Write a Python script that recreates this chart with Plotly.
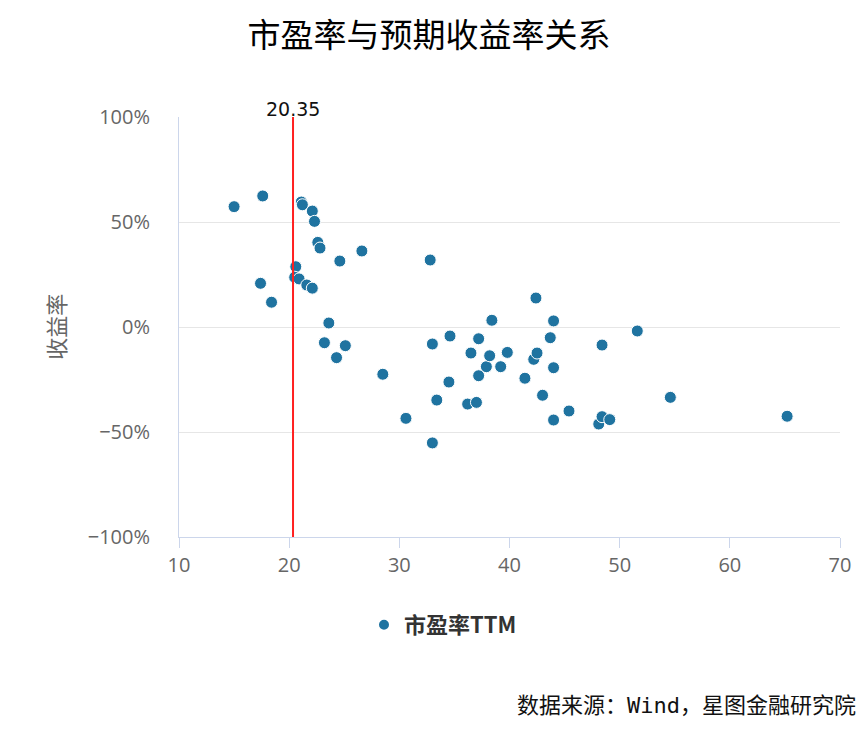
import plotly.graph_objects as go

title_text = "市盈率与预期收益率关系"
series_name = "市盈率TTM"
pe_ttm = [15.0, 17.6, 17.4, 18.4, 21.1, 21.2, 22.1, 22.3, 22.6, 22.8,
          20.6, 20.5, 20.9, 21.6, 22.1, 24.6, 26.6, 23.6, 23.2, 24.3,
          25.1, 28.5, 30.6, 32.8, 33.0, 33.0, 33.4, 34.5, 34.6, 36.5,
          37.2, 37.2, 36.2, 37.0, 37.9, 38.2, 38.4, 39.2, 39.8, 41.4,
          42.4, 42.2, 42.5, 43.0, 43.7, 44.0, 44.0, 44.0, 45.4, 48.1,
          48.4, 49.1, 48.4, 51.6, 54.6, 65.2]
returns_pct = [57.3, 62.4, 20.8, 11.8, 59.5, 58.2, 55.2, 50.3, 40.3, 37.6,
               28.7, 23.7, 22.9, 20.0, 18.5, 31.4, 36.2, 1.9, -7.5, -14.6,
               -8.9, -22.5, -43.5, 31.9, -8.1, -55.2, -34.8, -26.2, -4.3, -12.4,
               -5.6, -23.2, -36.7, -35.9, -18.9, -13.7, 3.2, -18.9, -12.1, -24.4,
               13.8, -15.4, -12.4, -32.5, -5.1, 2.9, -19.4, -44.3, -40.0, -46.2,
               -42.7, -44.1, -8.6, -1.9, -33.5, -42.5]
ref_pe = 20.35
x_ticks = [10, 20, 30, 40, 50, 60, 70]
y_ticks = [-100, -50, 0, 50, 100]
y_tick_labels = ["\u2212100%", "\u221250%", "0%", "50%", "100%"]
y_title = "收益率"
source_text = "数据来源：Wind，星图金融研究院"

font_main = "Open Sans, Noto Sans CJK SC, sans-serif"
axis_col = "#ccd6eb"

# page body has an 8px margin, so the figure is sized/offset to compensate
W, H = 857, 723

fig = go.Figure()
fig.add_trace(go.Scatter(
    x=pe_ttm, y=returns_pct, mode="markers", name="<b>" + series_name + "</b>",
    marker=dict(color="#1f73a0", size=12, line=dict(color="white", width=1)),
    showlegend=True,
))

fig.add_shape(type="line", x0=ref_pe, x1=ref_pe, y0=y_ticks[0], y1=y_ticks[-1],
              xref="x", yref="y", line=dict(color="#ff2020", width=2))
fig.add_annotation(x=ref_pe, y=y_ticks[-1], xref="x", yref="y", text=f"{ref_pe:.2f}",
                   showarrow=False, yanchor="bottom", yshift=-5,
                   font=dict(size=19, color="#111", family="DejaVu Sans, sans-serif"))

fig.add_annotation(x=-0.188, y=0.5, xref="paper", yref="paper", text=y_title,
                   textangle=-90, showarrow=False, xanchor="center", yanchor="middle",
                   font=dict(size=22, color="#666", family="Noto Sans CJK SC"))

fig.add_annotation(x=1.027, y=-0.40, xref="paper", yref="paper", text=source_text,
                   showarrow=False, xanchor="right", yanchor="middle",
                   font=dict(size=22, color="#111", family="DejaVu Sans Mono, Noto Sans CJK SC"))

fig.update_layout(
    width=W, height=H,
    margin=dict(l=171, r=25, t=109, b=194),
    paper_bgcolor="white", plot_bgcolor="white",
    title=dict(text=title_text, x=421 / W, xanchor="center", y=1 - 27 / H, yanchor="middle",
               font=dict(size=33, color="#000", family="Noto Sans CJK SC")),
    font=dict(family=font_main, color="#666"),
    xaxis=dict(range=[10, 70], tickvals=x_ticks, showgrid=False, zeroline=False,
               showline=True, linecolor=axis_col, linewidth=1, automargin=False,
               ticks="outside", ticklen=10, tickcolor=axis_col,
               tickfont=dict(size=20, color="#666")),
    yaxis=dict(range=[-100, 100], tickvals=y_ticks, ticktext=y_tick_labels,
               showgrid=True, gridcolor="#e6e6e6", gridwidth=1, zeroline=False,
               showline=True, linecolor=axis_col, linewidth=1, automargin=False,
               tickfont=dict(size=20, color="#666"), ticks="", ticklabelstandoff=24),
    legend=dict(orientation="h", x=435 / W, xanchor="center", xref="container",
                y=1 - 617 / H, yanchor="middle", yref="container",
                font=dict(size=22, color="#333", family="Noto Sans CJK SC"),
                itemsizing="constant"),
)

fig.write_html("out.html")
